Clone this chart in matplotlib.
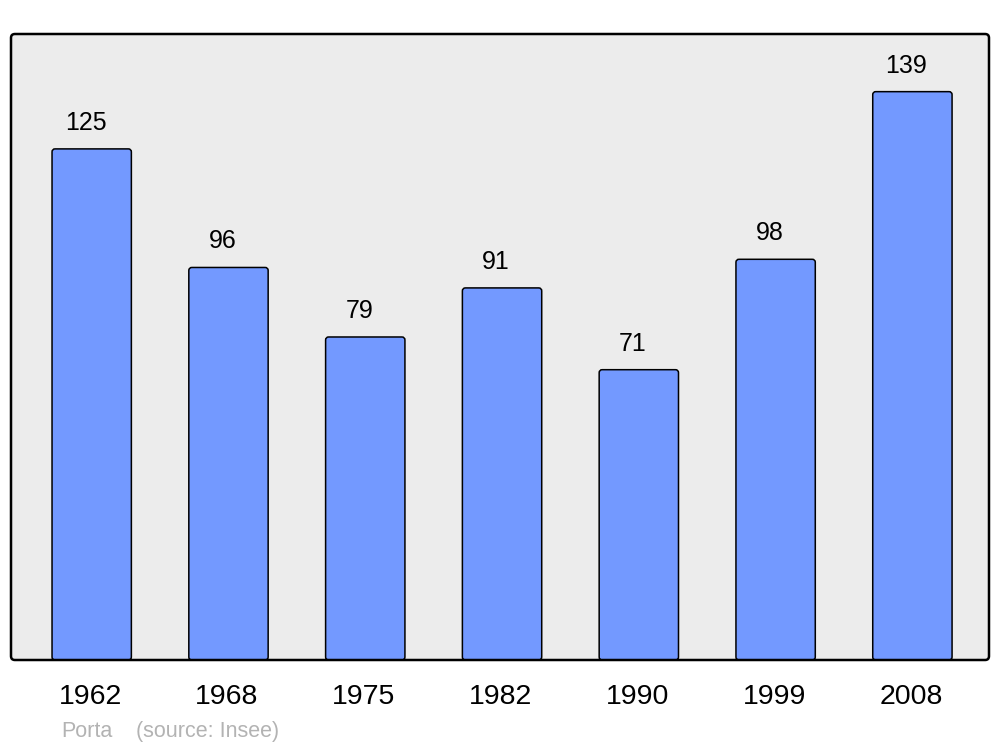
import matplotlib
matplotlib.use('Agg')
import matplotlib.pyplot as plt
import matplotlib.transforms as mtransforms
from matplotlib.patches import FancyBboxPatch

plt.rcParams['font.family'] = ['Liberation Sans', 'DejaVu Sans']

years = ['1962', '1968', '1975', '1982', '1990', '1999', '2008']
population = [125, 96, 79, 91, 71, 98, 139]
commune = 'Porta'
source = '(source: Insee)'

W, H = 1000, 747
fig = plt.figure(figsize=(W / 100, H / 100), dpi=100)
# axes box in pixels: x 11..989, y 34..660
ax = fig.add_axes([11 / W, (H - 660) / H, 978 / W, 626 / H])
ax.set_xlim(-0.59, 6.56)
ax.set_ylim(0, 153.1)
ax.patch.set_visible(False)
for s in ax.spines.values():
    s.set_visible(False)

# rounded background + frame (axes coords)
asp = 978 / 626
bg = FancyBboxPatch((0, 0), 1, 1, boxstyle='round,pad=0,rounding_size=0.004',
                    mutation_aspect=asp, transform=ax.transAxes,
                    facecolor='#ececec', edgecolor='none', zorder=0, clip_on=False)
ax.add_patch(bg)
frame = FancyBboxPatch((0, 0), 1, 1, boxstyle='round,pad=0,rounding_size=0.004',
                       mutation_aspect=asp, transform=ax.transAxes,
                       facecolor='none', edgecolor='black', linewidth=1.8,
                       zorder=5, clip_on=False)
ax.add_patch(frame)

x = list(range(len(years)))
bars = ax.bar(x, population, width=0.58, color='none', edgecolor='none')
# replace bars with slightly rounded ones
xunit_px = 978 / 7.15
yunit_px = 626 / 153.1
for b in bars:
    p = FancyBboxPatch((b.get_x(), b.get_y()), b.get_width(), b.get_height(),
                       boxstyle='round,pad=0,rounding_size=0.022',
                       mutation_aspect=xunit_px / yunit_px,
                       facecolor='#7399ff', edgecolor='black', linewidth=1.1,
                       zorder=2)
    ax.add_patch(p)

for xi, v in zip(x, population):
    ax.annotate(str(v), (xi, v), xytext=(-6, 19), textcoords='offset pixels',
                ha='center', va='baseline', fontsize=18, color='black')

ax.set_xticks(x)
ax.set_xticklabels(years, fontsize=20.5)
ax.tick_params(axis='x', length=0, pad=17)
ax.set_yticks([])
shift = mtransforms.ScaledTranslation(-1.5 / 100, 0, fig.dpi_scale_trans)
for lbl in ax.get_xticklabels():
    lbl.set_transform(lbl.get_transform() + shift)

fig.text(61 / W, 1 - 737 / H, commune, fontsize=15.5, color='#b3b3b3',
         ha='left', va='baseline')
fig.text(136 / W, 1 - 737 / H, source, fontsize=15.5, color='#b3b3b3',
         ha='left', va='baseline')

fig.savefig('out.png', dpi=100, facecolor='white')
